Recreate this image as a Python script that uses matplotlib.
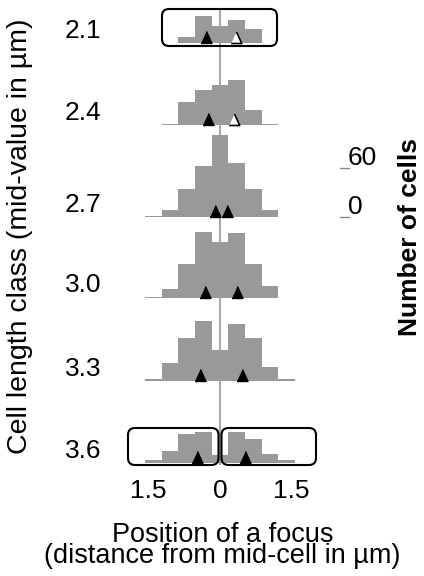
import matplotlib
matplotlib.use("Agg")
import matplotlib.pyplot as plt
from matplotlib.patches import FancyBboxPatch
import numpy as np

plt.rcParams['font.family'] = ['Liberation Sans', 'DejaVu Sans']

# ---------------- data ----------------
length_classes = ["2.1", "2.4", "2.7", "3.0", "3.3", "3.6"]
bin_width = 0.35  # µm
bin_index = [-4, -3, -2, -1, 0, 1, 2, 3, 4]
counts_21 = [0, 0, 8, 33, 21, 28, 17, 0, 0]
counts_24 = [0, 2, 28, 43, 49, 55, 19, 2, 0]
counts_27 = [1, 8, 34, 62, 100, 66, 34, 8, 0]
counts_30 = [1, 11, 41, 80, 68, 79, 41, 14, 0]
counts_33 = [2, 22, 52, 73, 38, 69, 52, 17, 2]
counts_36 = [3, 14, 35, 37, 9, 37, 29, 11, 3]
focus_left = [-0.29, -0.25, -0.10, -0.31, -0.43, -0.49]
focus_right = [0.33, 0.30, 0.14, 0.35, 0.46, 0.52]
right_open = [True, True, False, False, False, False]
xtick_values = [-1.5, 0, 1.5]
xtick_labels = ["1.5", "0", "1.5"]
scale_values = [0, 60]

all_counts = [counts_21, counts_24, counts_27, counts_30, counts_33, counts_36]

# ---------------- layout (pixels) ----------------
W, H = 424, 576
X0 = 220.0          # pixel x of mid-cell
SX = 16.67 / bin_width  # px per µm
SY = 0.817          # px per cell
baselines_px = [43.3, 125.3, 216.7, 297.5, 380.7, 462.7]

def dx(px):
    return (px - X0) / SX

def dy(py):
    return (H - py) / SY

fig = plt.figure(figsize=(W / 100, H / 100), dpi=100)
ax = fig.add_axes([0, 0, 1, 1])
ax.set_xlim(dx(0), dx(W))
ax.set_ylim(dy(H), dy(0))
ax.axis('off')

bar_color = '#999999'
centers = np.array(bin_index) * bin_width

# centre line
ax.plot([0, 0], [dy(10), dy(465)], color='#a9a9a9', lw=1.5, zorder=1.5,
        solid_capstyle='butt')

tri = [(-11, 0), (11, 0), (0, 24)]
fs_num = 19
fs_lab = 19.5
for i, (lab, cnt) in enumerate(zip(length_classes, all_counts)):
    base = dy(baselines_px[i])
    ax.bar(centers, cnt, width=bin_width, bottom=base, color=bar_color,
           linewidth=0, zorder=2)
    ax.plot([focus_left[i]], [base], marker=tri, ms=17.3, color='black',
            linestyle='none', zorder=4)
    if right_open[i]:
        ax.plot([focus_right[i]], [base], marker=tri, ms=16.5,
                markerfacecolor='white', markeredgecolor='black', mew=1.2,
                linestyle='none', zorder=4)
    else:
        ax.plot([focus_right[i]], [base], marker=tri, ms=17.3, color='black',
                linestyle='none', zorder=4)
    ax.text(dx(83), dy(baselines_px[i] - 5), lab, ha='center',
            va='baseline', fontsize=fs_num)

# boxes
aspect = SX / SY
def box(x0p, x1p, y0p, y1p):
    p = FancyBboxPatch((dx(x0p), dy(y1p)), dx(x1p) - dx(x0p), dy(y0p) - dy(y1p),
                       boxstyle="round,pad=0,rounding_size=%f" % (7 / SX),
                       mutation_aspect=aspect, facecolor='none',
                       edgecolor='black', lw=1.5, zorder=5)
    ax.add_patch(p)

box(162, 277, 9, 46)
box(128, 218.5, 428, 465)
box(221.5, 316, 428, 465)

# scale bar for number of cells
scale_base = dy(baselines_px[2])
for v in scale_values:
    ax.plot([dx(340), dx(349)], [scale_base + v, scale_base + v],
            color='#888888', lw=1.0)
    ax.text(dx(348), scale_base + v + 3 / SY, str(v), ha='left',
            va='baseline', fontsize=fs_num)
ax.text(dx(410), dy(237), "Number of cells", rotation=90, ha='center',
        va='center', fontsize=fs_num, fontweight='bold')

# x tick labels
for v, t in zip(xtick_values, xtick_labels):
    ax.text(v, dy(498), t, ha='center', va='baseline', fontsize=fs_num)

ax.text(0.05, dy(563), "Position of a focus\n(distance from mid-cell in µm)",
        ha='center', va='baseline', multialignment='center',
        linespacing=0.77, fontsize=fs_lab)

ax.text(dx(20), dy(236), "Cell length class (mid-value in µm)", rotation=90,
        ha='center', va='center', fontsize=20.5)

fig.savefig("out.png", dpi=100)
